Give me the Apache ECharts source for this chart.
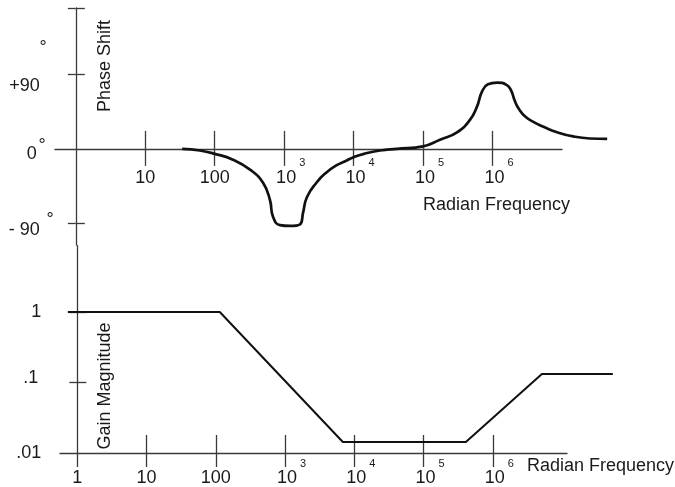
<!DOCTYPE html>
<html><head><meta charset="utf-8">
<script src="https://cdn.jsdelivr.net/npm/echarts@6/dist/echarts.min.js"></script>
<style>html,body{margin:0;padding:0;background:#fff}#c{width:675px;height:487px}</style>
</head><body><div id="c"></div>
<script>
// ---- data ----
const phaseFreq = [34, 61, 100, 183, 322, 496, 625, 690, 870, 1210, 1690, 1870, 2130, 2970, 3980, 5620, 7940, 10000, 14100, 24000, 41700, 99500, 175000, 308000, 473000, 597000, 705000, 859000, 1160000, 1610000, 1860000, 2090000, 2400000, 2950000, 3980000, 5620000, 8510000, 14500000, 25100000, 44700000];
const phaseDeg  = [0, -2, -6, -13, -25, -41, -62, -82, -92, -93, -91, -77, -58, -40, -29, -20, -14, -10, -6, -2, 0, 3, 11, 20, 35, 51, 69, 78, 80, 77, 70, 58, 48, 39, 32, 26, 20, 15, 12.5, 12];
const gainFreq = [0.73, 114, 6820, 407000, 5100000, 54000000];
const gainMag  = [1, 1, 0.0143, 0.0143, 0.132, 0.132];
const freqTicks = [1, 10, 100, 1000, 10000, 100000, 1000000];
const phaseTicks = [-90, 0, 90];
const phaseTickLabels = ['- 90', '0', '+90'];
const gainTicks = [0.01, 0.1, 1];
const gainTickLabels = ['.01', '.1', '1'];

const lg = Math.log10;
const FONT = '"Liberation Sans", Arial, Helvetica, sans-serif';
const INK = '#1a1a1a';
const AX = '#3a3a3a';

const freqExp = freqTicks.map(lg);
function freqLabel(v) {
  const e = Math.round(v);
  if (e === 0) return '{b|1}';
  if (e === 1) return '{b|10}';
  if (e === 2) return '{b|100}';
  return '{p|10}{s|' + e + '}';
}
const txt = (o) => Object.assign({color: INK, fontFamily: FONT}, o);
const freqRich = {
  b: txt({fontSize: 18, lineHeight: 18, padding: [11, 0, 0, 0], verticalAlign: 'top'}),
  p: txt({fontSize: 18, lineHeight: 18, padding: [11, 0, 0, 13], verticalAlign: 'top'}),
  s: txt({fontSize: 11, lineHeight: 11, padding: [0, 0, 0, 3], verticalAlign: 'top'})
};
const lineStyle = {color: AX, width: 1.3};

const phaseData = phaseFreq.map((f, i) => [lg(f), phaseDeg[i]]);
const gainData = gainFreq.map((f, i) => [lg(f), lg(gainMag[i])]);
const gainExp = gainTicks.map(lg);

// panel geometry (axes panels); the curves use wider panels with the same scale
const TOP = {left: 55, top: 8, width: 507, height: 237, xmin: -0.3, xmax: 7, ymin: -116, ymax: 170};
const BOT = {left: 60, top: 245.7, width: 507, height: 207.3, xmin: -0.25, xmax: 7.07, ymin: -2, ymax: 0.94};
const XWIDE = 7.8;
const wideW = (P) => P.width * (XWIDE - P.xmin) / (P.xmax - P.xmin);
const topYOff = -TOP.width * (0 - TOP.xmin) / (TOP.xmax - TOP.xmin);
const topXOff = -TOP.height * (0 - TOP.ymin) / (TOP.ymax - TOP.ymin);
const botYOff = -BOT.width * (0 - BOT.xmin) / (BOT.xmax - BOT.xmin);
const G = (P, w) => ({left: P.left, top: P.top, width: w, height: P.height, outerBoundsMode: 'none', containLabel: false});
const hiddenX = (gi, P) => ({gridIndex: gi, type: 'value', min: P.xmin, max: XWIDE, show: false, axisLine: {onZero: false}, splitLine: {show: false}});
const hiddenY = (gi, P) => ({gridIndex: gi, type: 'value', min: P.ymin, max: P.ymax, show: false, axisLine: {onZero: false}, splitLine: {show: false}});

const chart = echarts.init(document.getElementById('c'), null, {renderer: 'canvas'});
chart.setOption({
  animation: false,
  backgroundColor: '#fff',
  grid: [G(TOP, TOP.width), G(BOT, BOT.width), G(TOP, wideW(TOP)), G(BOT, wideW(BOT))],
  xAxis: [
    {gridIndex: 0, type: 'value', min: TOP.xmin, max: TOP.xmax, position: 'bottom', offset: topXOff,
     axisLine: {onZero: false, lineStyle},
     axisTick: {customValues: freqExp.slice(1), length: 17, lineStyle},
     axisLabel: {customValues: freqExp.slice(1), margin: 9, formatter: freqLabel, rich: freqRich},
     splitLine: {show: false}},
    {gridIndex: 0, type: 'value', min: TOP.xmin, max: TOP.xmax, position: 'bottom', offset: topXOff,
     axisLine: {show: false, onZero: false},
     axisTick: {customValues: freqExp.slice(1), length: 18, inside: true, lineStyle},
     axisLabel: {show: false}, splitLine: {show: false}},
    {gridIndex: 1, type: 'value', min: BOT.xmin, max: BOT.xmax, position: 'bottom',
     axisLine: {onZero: false, lineStyle},
     axisTick: {customValues: freqExp, length: 14, lineStyle},
     axisLabel: {customValues: freqExp, margin: 5.5, formatter: freqLabel, rich: freqRich},
     splitLine: {show: false}},
    {gridIndex: 1, type: 'value', min: BOT.xmin, max: BOT.xmax, position: 'bottom',
     axisLine: {show: false, onZero: false},
     axisTick: {customValues: freqExp.slice(1), length: 18, inside: true, lineStyle},
     axisLabel: {show: false}, splitLine: {show: false}},
    hiddenX(2, TOP),
    hiddenX(3, BOT)
  ],
  yAxis: [
    {gridIndex: 0, type: 'value', min: TOP.ymin, max: TOP.ymax, position: 'left', offset: topYOff,
     axisLine: {onZero: false, lineStyle},
     axisTick: {customValues: [-90, 90, 170], length: 8, lineStyle},
     axisLabel: {customValues: phaseTicks, margin: 34,
       formatter: (v) => { const i = phaseTicks.indexOf(Math.round(v)); return '{u' + i + '|' + phaseTickLabels[i] + '}'; },
       rich: {
         u0: txt({fontSize: 18, lineHeight: 18, padding: [13, 2, 0, 0]}),
         u1: txt({fontSize: 18, lineHeight: 18, padding: [11, 5, 0, 0]}),
         u2: txt({fontSize: 18, lineHeight: 18, padding: [23, 2, 0, 0]})
       }},
     splitLine: {show: false}},
    {gridIndex: 0, type: 'value', min: TOP.ymin, max: TOP.ymax, position: 'left', offset: topYOff,
     axisLine: {show: false, onZero: false},
     axisTick: {customValues: [-90, 90, 170], length: 9, inside: true, lineStyle},
     axisLabel: {show: false}, splitLine: {show: false}},
    {gridIndex: 1, type: 'value', min: BOT.ymin, max: BOT.ymax, position: 'left', offset: botYOff,
     axisLine: {onZero: false, lineStyle},
     axisTick: {customValues: gainExp.slice(1), length: 8, lineStyle},
     axisLabel: {customValues: gainExp, margin: 36,
       formatter: (v) => { const i = gainExp.findIndex(g => Math.abs(g - v) < 1e-6); return '{g' + i + '|' + gainTickLabels[i] + '}'; },
       rich: {
         g0: txt({fontSize: 18, lineHeight: 18}),
         g1: txt({fontSize: 18, lineHeight: 18, padding: [0, 3, 9, 0]}),
         g2: txt({fontSize: 18, lineHeight: 18})
       }},
     splitLine: {show: false}},
    {gridIndex: 1, type: 'value', min: BOT.ymin, max: BOT.ymax, position: 'left', offset: botYOff,
     axisLine: {show: false, onZero: false},
     axisTick: {customValues: gainExp.slice(1), length: 9, inside: true, lineStyle},
     axisLabel: {show: false}, splitLine: {show: false}},
    hiddenY(2, TOP),
    hiddenY(3, BOT)
  ],
  series: [
    {type: 'line', xAxisIndex: 4, yAxisIndex: 4, data: phaseData, smooth: 0.5,
     showSymbol: false, lineStyle: {color: '#111', width: 2.7}},
    {type: 'line', xAxisIndex: 5, yAxisIndex: 5, data: gainData, smooth: false,
     showSymbol: false, lineStyle: {color: '#111', width: 2}}
  ],
  graphic: [
    {type: 'text', x: 105, y: 66, rotation: Math.PI / 2,
     style: {text: 'Phase Shift', font: '18px ' + FONT, fill: INK, align: 'center', verticalAlign: 'middle', textAlign: 'center', textVerticalAlign: 'middle'}},
    {type: 'text', x: 105, y: 386, rotation: Math.PI / 2,
     style: {text: 'Gain Magnitude', font: '18px ' + FONT, fill: INK, align: 'center', verticalAlign: 'middle', textAlign: 'center', textVerticalAlign: 'middle'}},
    {type: 'text', x: 423, y: 205,
     style: {text: 'Radian Frequency', font: '18px ' + FONT, fill: INK, align: 'left', verticalAlign: 'middle', textAlign: 'left', textVerticalAlign: 'middle'}},
    {type: 'text', x: 527, y: 466,
     style: {text: 'Radian Frequency', font: '18px ' + FONT, fill: INK, align: 'left', verticalAlign: 'middle', textAlign: 'left', textVerticalAlign: 'middle'}},
    {type: 'text', x: 43, y: 48,
     style: {text: '°', font: '18px ' + FONT, fill: INK, align: 'center', verticalAlign: 'middle', textAlign: 'center', textVerticalAlign: 'middle'}},
    {type: 'text', x: 42, y: 146,
     style: {text: '°', font: '18px ' + FONT, fill: INK, align: 'center', verticalAlign: 'middle', textAlign: 'center', textVerticalAlign: 'middle'}},
    {type: 'text', x: 50, y: 220,
     style: {text: '°', font: '18px ' + FONT, fill: INK, align: 'center', verticalAlign: 'middle', textAlign: 'center', textVerticalAlign: 'middle'}}
  ]
});
</script>
</body></html>
